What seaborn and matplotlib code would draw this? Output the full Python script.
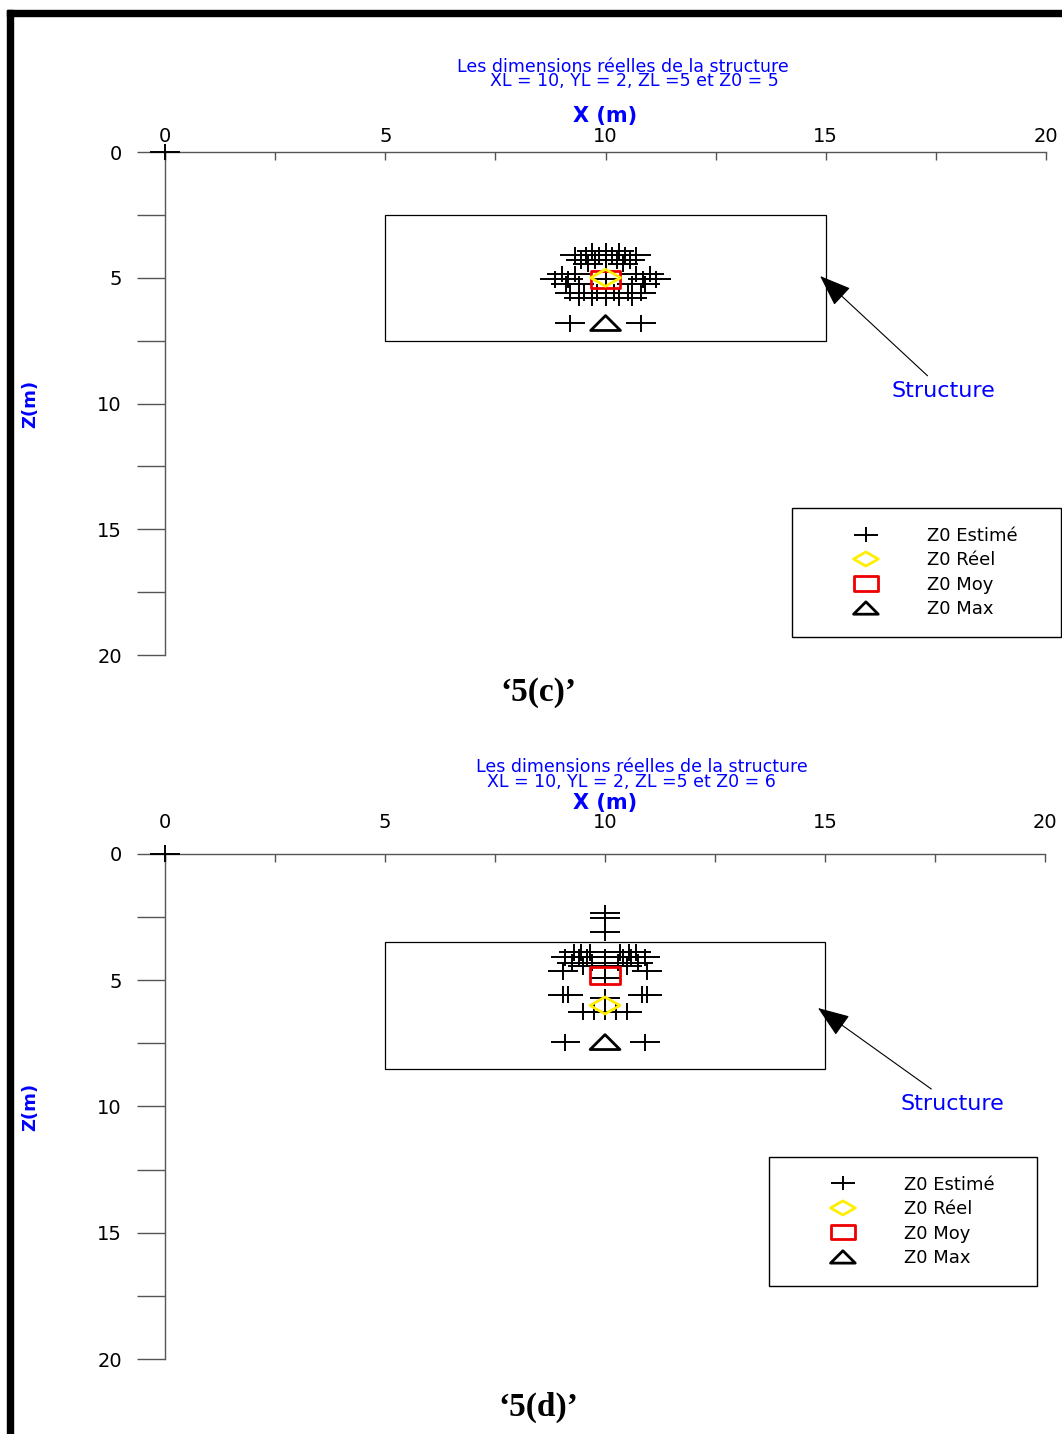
import numpy as np
import matplotlib
matplotlib.use('Agg')
import matplotlib.pyplot as plt
from matplotlib.path import Path
from matplotlib.patches import Rectangle
import seaborn as sns
import pandas as pd


# Real structure dimensions
XL = 10
YL = 2
ZL = 5
X_CENTER = 10

# Panel 5(c): Z0 = 5
Z0_C = 5
est_c_x = [0,
           9.7, 10.0, 10.3,
           9.3, 9.55, 9.85, 10.15, 10.45, 10.7,
           9.45, 9.75, 10.0, 10.25, 10.55,
           9.6, 10.4,
           9.0, 9.3, 10.7, 11.0,
           8.85, 9.15, 10.0, 10.85, 11.15,
           9.1, 9.4, 10.6, 10.9,
           9.2, 9.5, 9.8, 10.2, 10.5, 10.8,
           9.4, 9.7, 10.0, 10.3, 10.6,
           9.2, 10.8]
est_c_z = [0,
           3.95, 3.95, 3.95,
           4.1, 4.1, 4.1, 4.1, 4.1, 4.1,
           4.3, 4.3, 4.3, 4.3, 4.3,
           4.45, 4.45,
           4.85, 4.85, 4.85, 4.85,
           5.05, 5.05, 5.05, 5.05, 5.05,
           5.25, 5.25, 5.25, 5.25,
           5.6, 5.6, 5.6, 5.6, 5.6, 5.6,
           5.8, 5.8, 5.8, 5.8, 5.8,
           6.8, 6.8]
reel_c = (10.0, 5.0)
moy_c = (10.0, 5.05)
max_c = (10.0, 6.8)

# Panel 5(d): Z0 = 6
Z0_D = 6
est_d_x = [0,
           10.0, 10.0, 10.0,
           9.3, 9.45, 9.65, 10.35, 10.55, 10.7,
           9.1, 9.4, 9.6, 10.0, 10.4, 10.6, 10.9,
           9.25, 9.7, 10.0, 10.3, 10.75,
           9.5, 10.0, 10.5,
           9.05, 10.0, 10.95,
           9.05, 9.15, 10.85, 10.95,
           10.0,
           9.5, 9.75, 10.0, 10.25, 10.5,
           9.1, 10.9]
est_d_z = [0,
           2.35, 2.55, 3.1,
           3.9, 3.9, 3.9, 3.9, 3.9, 3.9,
           4.1, 4.1, 4.1, 4.1, 4.1, 4.1, 4.1,
           4.3, 4.3, 4.3, 4.3, 4.3,
           4.45, 4.45, 4.45,
           4.65, 4.9, 4.65,
           5.58, 5.58, 5.58, 5.58,
           5.7,
           6.25, 6.25, 6.25, 6.25, 6.25,
           7.45, 7.45]
reel_d = (10.0, 6.0)
moy_d = (10.0, 4.8)
max_d = (10.0, 7.45)

x_major = [0, 5, 10, 15, 20]
z_major = [0, 5, 10, 15, 20]
minor_ticks = np.arange(0, 20.1, 2.5)

# Markers are wider than tall in the original
A = 0.57
PLUS = Path([(-1, 0), (1, 0), (0, -A), (0, A)],
            [Path.MOVETO, Path.LINETO, Path.MOVETO, Path.LINETO])
DIAMOND = Path([(-1, 0), (0, A), (1, 0), (0, -A), (-1, 0)], closed=True)
BOX = Path([(-1, -A), (1, -A), (1, A), (-1, A), (-1, -A)], closed=True)
TRI = Path([(-1, -0.5), (0, 0.5), (1, -0.5), (-1, -0.5)], closed=True)
MS = 460

BLUE = '#0000FF'
AXC = '#555555'

sns.set_style('white')
plt.rcParams['font.family'] = ['DejaVu Sans']


def draw_panel(ax, est_x, est_z, reel, moy, zmax, z0, arrow_xy, text_xy,
               title_xy, indent, xlab_y, xpad, legend_anchor):
    df = pd.DataFrame({'x': est_x, 'z': est_z})
    sns.scatterplot(data=df, x='x', y='z', marker=PLUS, s=MS, color='black',
                    facecolor='none', edgecolor='black', linewidth=1.4,
                    label='Z0 Estimé', ax=ax, clip_on=False, zorder=3)
    sns.scatterplot(x=[reel[0]], y=[reel[1]], marker=DIAMOND, s=MS, color='#FFEE00',
                    facecolor='none', edgecolor='#FFEE00', linewidth=2,
                    label='Z0 Réel', ax=ax, zorder=5)
    sns.scatterplot(x=[moy[0]], y=[moy[1]], marker=BOX, s=MS, color='#EE0000',
                    facecolor='none', edgecolor='#EE0000', linewidth=2,
                    label='Z0 Moy', ax=ax, zorder=4)
    sns.scatterplot(x=[zmax[0]], y=[zmax[1]], marker=TRI, s=MS, color='black',
                    facecolor='none', edgecolor='black', linewidth=2,
                    label='Z0 Max', ax=ax, zorder=4)

    # structure outline
    ax.add_patch(Rectangle((X_CENTER - XL / 2, z0 - ZL / 2), XL, ZL,
                           fill=False, ec='black', lw=0.9, zorder=2))

    ax.annotate('Structure', xy=arrow_xy, xytext=text_xy,
                ha='center', va='center', color=BLUE, fontsize=16,
                arrowprops=dict(arrowstyle='-|>,head_length=0.8,head_width=0.3',
                                mutation_scale=25, color='black', lw=0.8,
                                shrinkA=2, shrinkB=0))

    ax.set_xlim(0, 20)
    ax.set_ylim(20, 0)
    ax.xaxis.tick_top()
    ax.set_xticks(x_major)
    ax.set_xticks(minor_ticks, minor=True)
    ax.set_yticks(z_major)
    ax.set_yticks(minor_ticks, minor=True)
    ax.tick_params(axis='x', which='both', top=True, bottom=False,
                   labeltop=True, labelbottom=False, direction='in',
                   length=6, width=1, color=AXC, labelcolor='black',
                   labelsize=14, pad=xpad)
    ax.tick_params(axis='y', which='both', left=True, direction='out',
                   length=20, width=1, color=AXC, labelcolor='black',
                   labelsize=14, pad=11)
    for s in ['right', 'bottom']:
        ax.spines[s].set_visible(False)
    for s in ['top', 'left']:
        ax.spines[s].set_color(AXC)
        ax.spines[s].set_linewidth(1)

    ax.set_xlabel('X (m)', color=BLUE, fontsize=15, fontweight='bold')
    ax.xaxis.set_label_position('top')
    ax.xaxis.set_label_coords(0.5, xlab_y)
    ax.xaxis.label.set_va('center')
    ax.set_ylabel('Z(m)', color=BLUE, fontsize=13, fontweight='bold')
    ax.yaxis.set_label_coords(-0.153, 0.5)
    ax.yaxis.label.set_va('center')

    title = ('Les dimensions réelles de la structure\n'
             + ' ' * indent + f'XL = {XL}, YL = {YL}, ZL ={ZL} et Z0 = {z0}')
    ax.text(title_xy[0], title_xy[1], title, transform=ax.transAxes,
            ha='center', va='center', multialignment='left', linespacing=0.75,
            color=BLUE, fontsize=12.5)

    leg = ax.legend(loc='upper left', bbox_to_anchor=legend_anchor, mode='expand',
                    borderaxespad=0, fontsize=13, frameon=True, fancybox=False,
                    framealpha=1, edgecolor='black', borderpad=1.04,
                    handlelength=6.1, handletextpad=0.36, labelspacing=0.36,
                    markerscale=0.83, scatterpoints=1, scatteryoffsets=[0.5],
                    labelcolor='black')
    leg.get_frame().set_linewidth(1)


fig = plt.figure(figsize=(10.62, 14.34), dpi=100)
ax1 = fig.add_axes([0.1554, 0.5432, 0.8296, 0.3508])
ax2 = fig.add_axes([0.1554, 0.0523, 0.8286, 0.3522])

draw_panel(ax1, est_c_x, est_c_z, reel_c, moy_c, max_c, Z0_C,
           arrow_xy=(14.87, 4.93), text_xy=(17.68, 9.5),
           title_xy=(0.5193, 1.155), indent=6, xlab_y=1.0716, xpad=4,
           legend_anchor=(0.7117, 0.2922, 0.3053, 0))
draw_panel(ax2, est_d_x, est_d_z, reel_d, moy_d, max_d, Z0_D,
           arrow_xy=(14.84, 6.1), text_xy=(17.89, 9.9),
           title_xy=(0.5415, 1.1575), indent=2, xlab_y=1.1005, xpad=16,
           legend_anchor=(0.6864, 0.40, 0.3045, 0))

# figure captions
fig.text(538 / 1062, 1 - 692 / 1434, '‘5(c)’', family='Liberation Serif',
         fontweight='bold', fontsize=24, ha='center', va='center', color='black')
fig.text(538 / 1062, 1 - 1407 / 1434, '‘5(d)’', family='Liberation Serif',
         fontweight='bold', fontsize=24, ha='center', va='center', color='black')

# page border (left and top)
fig.patches.append(Rectangle((7 / 1062, 0), 6 / 1062, 1 - 10 / 1434,
                             transform=fig.transFigure, color='black', zorder=10))
fig.patches.append(Rectangle((7 / 1062, 1 - 16 / 1434), 1, 6 / 1434,
                             transform=fig.transFigure, color='black', zorder=10))

fig.savefig('out.png', dpi=100)
